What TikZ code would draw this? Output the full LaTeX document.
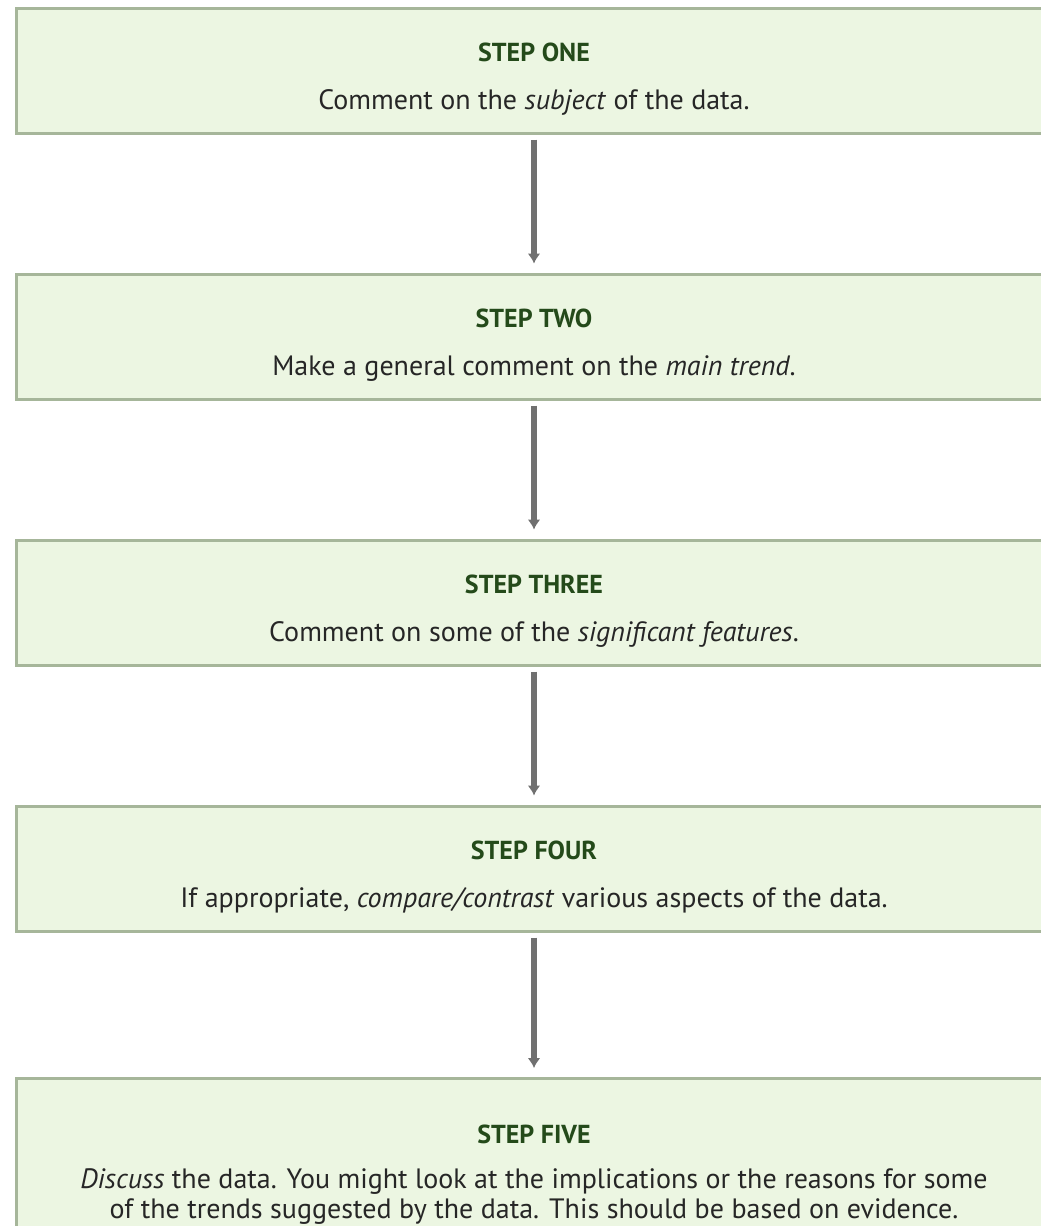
\documentclass[tikz,border=0pt]{standalone}
\usepackage{fontspec}
\setmainfont{PT Sans}
\usetikzlibrary{positioning}
\usetikzlibrary{arrows.meta}

\definecolor{boxfill}{RGB}{236,246,226}
\definecolor{boxline}{RGB}{166,182,154}
\definecolor{titlegreen}{RGB}{36,74,26}
\definecolor{arrowgrey}{RGB}{112,112,112}

\begin{document}
\begin{tikzpicture}[x=1pt, y=1pt, node distance=266pt, on grid,
    stepbox/.style={rectangle, draw=boxline, fill=boxfill, line width=3pt,
      minimum width=1036pt, minimum height=125pt},
    steptitle/.style={text=titlegreen, font=\bfseries\fontsize{26}{30}\selectfont},
    stepbody/.style={text=black!85, align=center, font=\fontsize{28}{30}\selectfont},
    flow/.style={draw=arrowgrey, line width=6pt, -{Latex[length=10pt,width=13pt]},
      shorten <=5pt, shorten >=9pt}]
    \useasboundingbox (0,0) rectangle (1041,-1226);
    \node[stepbox] (one) at (534,-70.5) {};
    \node[steptitle] (one-t) [below=33pt of one.north] {STEP ONE};
    \node[stepbody] (one-b) [below=50pt of one-t] {Comment on the \emph{subject} of the data.};

    \node[stepbox] (two) [below=of one] {};
    \node[steptitle] (two-t) [below=33pt of two.north] {STEP TWO};
    \node[stepbody] (two-b) [below=50pt of two-t] {Make a general comment on the \emph{main trend}.};

    \node[stepbox] (three) [below=of two] {};
    \node[steptitle] (three-t) [below=33pt of three.north] {STEP THREE};
    \node[stepbody] (three-b) [below=50pt of three-t] {Comment on some of the \emph{significant features}.};

    \node[stepbox] (four) [below=of three] {};
    \node[steptitle] (four-t) [below=33pt of four.north] {STEP FOUR};
    \node[stepbody] (four-b) [below=50pt of four-t] {If appropriate, \emph{compare/contrast} various aspects of the data.};

    % last box runs off the page
    \node[stepbox, minimum height=200pt] (five) [below=310pt of four] {};
    \node[steptitle] (five-t) [below=44pt of five.north] {STEP FIVE};
    \node[stepbody] (five-b) [below=63pt of five-t] {\emph{Discuss} the data. You might look at the implications or the reasons for some\\
      of the trends suggested by the data. This should be based on evidence.};

    \draw[flow] (one) -- (two);
    \draw[flow] (two) -- (three);
    \draw[flow] (three) -- (four);
    \draw[flow] (four) -- (five);
\end{tikzpicture}
\end{document}
